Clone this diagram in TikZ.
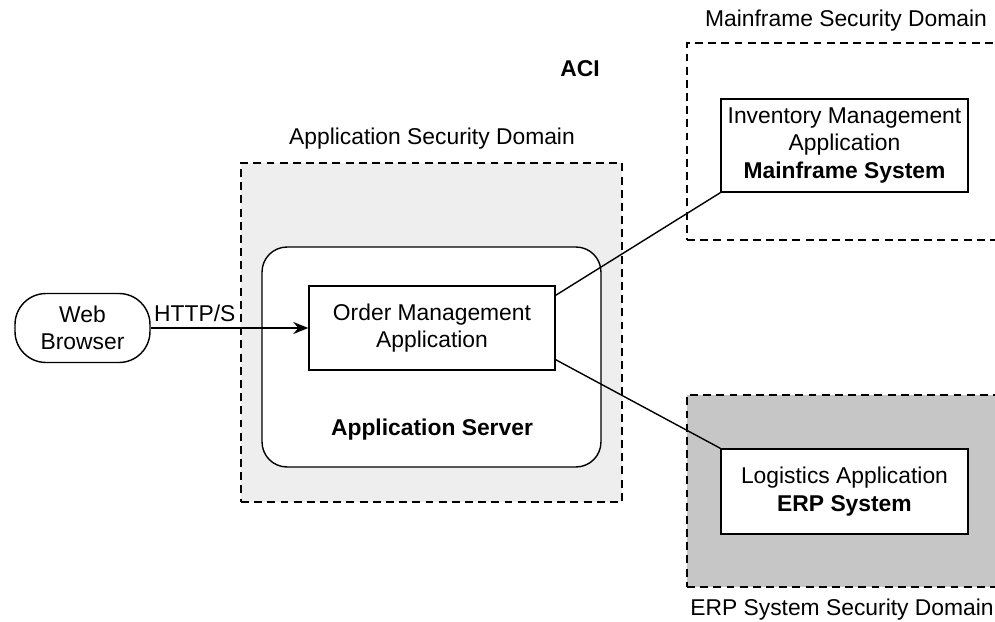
\documentclass[tikz,border=0pt]{standalone}
\usepackage{fontspec}
\setmainfont{Liberation Sans}
\usetikzlibrary{arrows.meta, positioning}
\definecolor{domgray}{HTML}{EEEEEE}
\definecolor{erpgray}{HTML}{C6C6C6}

\begin{document}
\begin{tikzpicture}[x=0.02cm, y=-0.02cm, font=\fontsize{13}{15.5}\selectfont,
    secdomain/.style = {draw, dash pattern=on 4.5pt off 3pt, line width=0.7pt, inner sep=0pt},
    box/.style = {draw, fill=white, line width=0.8pt, align=center, inner sep=0pt},
    link/.style = {line width=0.8pt}]
           \clip (0,0) rectangle (995,622);

           \node[secdomain, fill=domgray, minimum width=7.62cm, minimum height=6.78cm] (appdom) at (431.5,332.5) {};
           \node (appdomlabel) at (432,139) {Application Security Domain};
           \node[secdomain, minimum width=6.36cm, minimum height=3.94cm] (mfdom) at (846,141.5) {};
           \node (mfdomlabel) at (846,21) {Mainframe Security Domain};
           \node[secdomain, fill=erpgray, minimum width=6.36cm, minimum height=3.84cm] (erpdom) at (846,491) {};
           \node (erpdomlabel) at (842,610) {ERP System Security Domain};
           \node (aci) at (580,69) {\textbf{ACI}};

           \node[box, rounded corners=0.5cm, minimum width=6.78cm, minimum height=4.4cm] (server) at (431.5,357) {};
           \node (serverlabel) at (432,430) {\textbf{Application Server}};
           \node[box, minimum width=4.92cm, minimum height=1.68cm] (order) at (432,328) {Order Management\\Application};
           \node[box, rounded corners=0.62cm, minimum width=2.7cm, minimum height=1.38cm] (browser) at (82.5,328) {Web\\Browser};
           \node[box, minimum width=4.94cm, minimum height=1.86cm] (inventory) at (844.5,145.5) {Inventory Management\\Application\\\textbf{Mainframe System}};
           \node[box, minimum width=4.94cm, minimum height=1.7cm] (logistics) at (844.5,491.5) {Logistics Application\\\textbf{ERP System}};

           \draw[link, -{Stealth[length=3mm, width=2.4mm]}] (browser) -- node[above, pos=0.28] {HTTP/S} (order);
           \draw[link] ([yshift=-0.2cm]order.north east) -- (inventory.south west);
           \draw[link] ([yshift=0.22cm]order.south east) -- (logistics.north west);
\end{tikzpicture}
\end{document}
